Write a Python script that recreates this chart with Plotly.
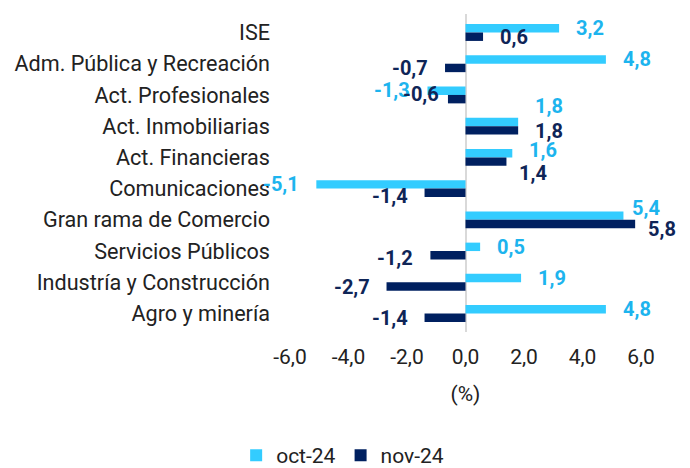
import plotly.graph_objects as go

categories = ["ISE", "Adm. Pública y Recreación", "Act. Profesionales", "Act. Inmobiliarias",
              "Act. Financieras", "Comunicaciones", "Gran rama de Comercio", "Servicios Públicos",
              "Industría y Construcción", "Agro y minería"]
oct_24 = [3.2, 4.8, -1.3, 1.8, 1.6, -5.1, 5.4, 0.5, 1.9, 4.8]
nov_24 = [0.6, -0.7, -0.6, 1.8, 1.4, -1.4, 5.8, -1.2, -2.7, -1.4]
series_names = ["oct-24", "nov-24"]
tick_vals = [-6, -4, -2, 0, 2, 4, 6]
tick_text = ["-6,0", "-4,0", "-2,0", "0,0", "2,0", "4,0", "6,0"]

C_OCT = "#33CCFF"
C_NOV = "#002060"
L_OCT = "#1DB4EE"
L_NOV = "#0F2557"
FONT = "Roboto"

fig = go.Figure()
fig.add_trace(go.Bar(y=categories, x=oct_24, orientation="h", name=series_names[0],
                     marker=dict(color=C_OCT, line=dict(width=0))))
fig.add_trace(go.Bar(y=categories, x=nov_24, orientation="h", name=series_names[1],
                     marker=dict(color=C_NOV, line=dict(width=0))))

# label placement tweaks (pixel offsets: dy down-positive, gap from bar end)
tweaks = {
    (0, 3): dict(dy=-16),
    (0, 4): dict(dy=-3),
    (1, 4): dict(dy=11, gap=11),
    (0, 6): dict(dy=-7, gap=7),
    (1, 6): dict(dy=5, gap=11),
    (1, 2): dict(dy=-5, gap=7),
    (1, 5): dict(dy=3),
    (1, 7): dict(dy=2),
}

ann = []
for s, (vals, col) in enumerate([(oct_24, L_OCT), (nov_24, L_NOV)]):
    base = 4.5 if s == 0 else -4.5
    for i, v in enumerate(vals):
        t = tweaks.get((s, i), {})
        gap = t.get("gap", 15)
        ann.append(dict(
            x=v, y=categories[i], xref="x", yref="y",
            text=f"{v:.1f}".replace(".", ","),
            showarrow=False,
            xanchor="left" if v >= 0 else "right",
            xshift=gap if v >= 0 else -gap,
            yshift=base - t.get("dy", 0),
            font=dict(family=FONT, size=20, color=col, weight="bold"),
        ))

fig.update_layout(
    width=690, height=468,
    margin=dict(l=276, r=57, t=6, b=144),
    paper_bgcolor="white", plot_bgcolor="white",
    barmode="group", bargap=0.46, bargroupgap=0,
    font=dict(family=FONT, size=21, color="#222222"),
    separators=",.",
    annotations=ann,
    legend=dict(orientation="h", xref="container", yref="container",
                x=0.485, xanchor="center", y=-0.01, yanchor="bottom",
                font=dict(size=21, color="#222222"), itemwidth=30,
                traceorder="normal"),
    xaxis=dict(range=[-6, 6], tickvals=tick_vals, ticktext=tick_text,
               showgrid=False, zeroline=True, zerolinecolor="#D9D9D9", zerolinewidth=2,
               showline=False, ticks="", ticklabelstandoff=10, tickfont=dict(size=21),
               title=dict(text="(%)", standoff=18, font=dict(size=21))),
    yaxis=dict(autorange="reversed", showgrid=False, showline=False, ticks="",
               ticklabelstandoff=19, tickfont=dict(size=21.6)),
)

fig.write_html("out.html")
